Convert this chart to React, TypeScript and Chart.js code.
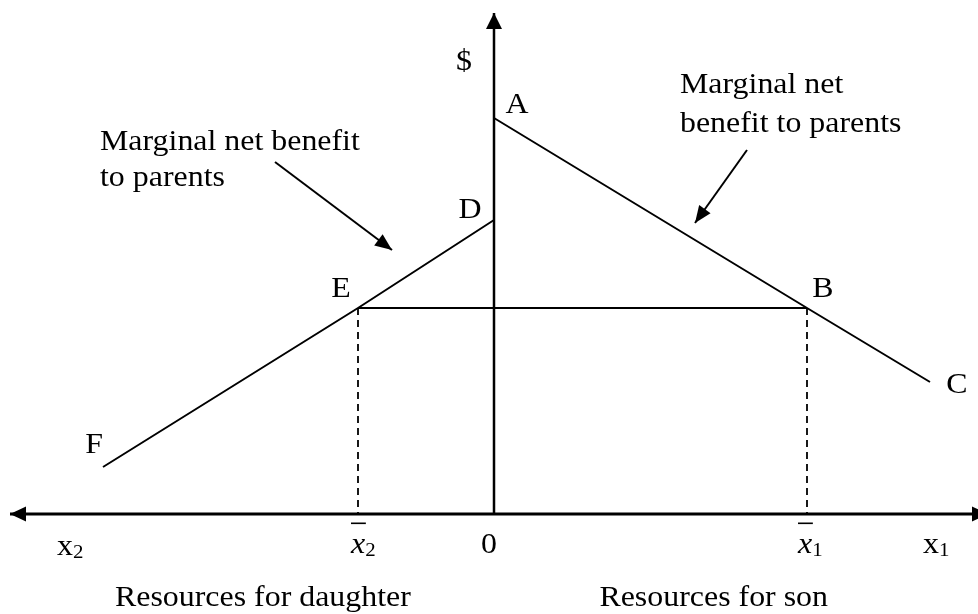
import React, { useEffect, useRef } from "react";
import { Chart, registerables } from "chart.js";
Chart.register(...registerables);

// Geometry (origin at the axes' crossing; 1 unit = 10 px)
const xAxisLine = [{ x: -48.4, y: 0 }, { x: 49.4, y: 0 }];
const yAxisLine = [{ x: 0, y: 0 }, { x: 0, y: 50.1 }];
const sonCurve = [{ x: 0, y: 39.6 }, { x: 31.3, y: 20.6 }, { x: 43.6, y: 13.2 }]; // A, B, C
const daughterCurve = [{ x: 0, y: 29.4 }, { x: -13.6, y: 20.6 }, { x: -39.1, y: 4.7 }]; // D, E, F
const equalLine = [{ x: -13.6, y: 20.6 }, { x: 31.3, y: 20.6 }]; // E to B
const dropE = [{ x: -13.6, y: 20.6 }, { x: -13.6, y: 0 }];
const dropB = [{ x: 31.3, y: 20.6 }, { x: 31.3, y: 0 }];
const leftPointer = [{ x: -21.9, y: 35.2 }, { x: -10.2, y: 26.4 }];
const rightPointer = [{ x: 25.3, y: 36.4 }, { x: 20.1, y: 29.1 }];

const pointLabels = ["A", "B", "C", "D", "E", "F", "$"];
const pointLabelAt = [
  { x: 2.3, y: 40.1 }, { x: 32.9, y: 21.7 }, { x: 46.3, y: 12.1 },
  { x: -2.4, y: 29.6 }, { x: -15.3, y: 21.7 }, { x: -40.0, y: 6.1 }, { x: -3.0, y: 44.4 },
];

const leftNote = ["Marginal net benefit", "to parents"];
const rightNote = ["Marginal net", "benefit to parents"];
const axisTitles = ["Resources for daughter", "Resources for son"];

type Part = { t: string; italic?: boolean; sub?: boolean };
const tickLabels: { parts: Part[]; bar?: boolean; x: number; y: number; align: "left" | "center" }[] = [
  { parts: [{ t: "x" }, { t: "2", sub: true }], x: -43.7, y: -4.1, align: "left" },
  { parts: [{ t: "x", italic: true }, { t: "2", sub: true }], bar: true, x: -14.3, y: -3.9, align: "left" },
  { parts: [{ t: "0" }], x: -0.5, y: -3.9, align: "center" },
  { parts: [{ t: "x", italic: true }, { t: "1", sub: true }], bar: true, x: 30.4, y: -3.9, align: "left" },
  { parts: [{ t: "x" }, { t: "1", sub: true }], x: 42.9, y: -3.9, align: "left" },
];

const FONT_FAMILY = "'Liberation Serif', 'Times New Roman', serif";
const FS = 29;
const STRETCH = 1.1;

function drawParts(ctx: CanvasRenderingContext2D, parts: Part[], px: number, py: number, align: string, bar = false) {
  ctx.save();
  ctx.translate(px, py);
  ctx.scale(STRETCH, 1);
  const fontFor = (p: Part) =>
    `${p.italic ? "italic " : ""}${p.sub ? Math.round(FS * 0.66) : FS}px ${FONT_FAMILY}`;
  let w = 0;
  for (const p of parts) {
    ctx.font = fontFor(p);
    w += ctx.measureText(p.t).width;
  }
  let cx = align === "center" ? -w / 2 : align === "right" ? -w : 0;
  const start = cx;
  ctx.fillStyle = "#000";
  ctx.textBaseline = "alphabetic";
  ctx.textAlign = "left";
  for (const p of parts) {
    ctx.font = fontFor(p);
    ctx.fillText(p.t, cx, p.sub ? 3 : 0);
    cx += ctx.measureText(p.t).width;
  }
  if (bar) {
    ctx.fillRect(start, -30.5, 13.5, 1.6);
  }
  ctx.restore();
}

function arrowHead(ctx: CanvasRenderingContext2D, from: { x: number; y: number }, to: { x: number; y: number }, len: number, half: number) {
  const ang = Math.atan2(to.y - from.y, to.x - from.x);
  ctx.save();
  ctx.translate(to.x, to.y);
  ctx.rotate(ang);
  ctx.beginPath();
  ctx.moveTo(0, 0);
  ctx.lineTo(-len, -half);
  ctx.lineTo(-len, half);
  ctx.closePath();
  ctx.fillStyle = "#000";
  ctx.fill();
  ctx.restore();
}

const decorPlugin = {
  id: "decor",
  afterDatasetsDraw(chart: any) {
    const ctx: CanvasRenderingContext2D = chart.ctx;
    const xs = chart.scales.x;
    const ys = chart.scales.y;
    const P = (p: { x: number; y: number }) => ({ x: xs.getPixelForValue(p.x), y: ys.getPixelForValue(p.y) });

    chart.data.datasets.forEach((ds: any) => {
      const d = ds.data;
      if (!ds.arrow) return;
      const size = ds.arrow.size;
      if (ds.arrow.end) arrowHead(ctx, P(d[d.length - 2]), P(d[d.length - 1]), size[0], size[1]);
      if (ds.arrow.start) arrowHead(ctx, P(d[1]), P(d[0]), size[0], size[1]);
    });

    pointLabels.forEach((t, i) => {
      const p = P(pointLabelAt[i]);
      drawParts(ctx, [{ t }], p.x, p.y, "center");
    });

    leftNote.forEach((t, i) => {
      const p = P({ x: -39.4, y: 36.4 - i * 3.6 });
      drawParts(ctx, [{ t }], p.x, p.y, "left");
    });
    rightNote.forEach((t, i) => {
      const p = P({ x: 18.6, y: 42.1 - i * 3.9 });
      drawParts(ctx, [{ t }], p.x, p.y, "left");
    });

    const t1 = P({ x: -37.9, y: -9.2 });
    drawParts(ctx, [{ t: axisTitles[0] }], t1.x, t1.y, "left");
    const t2 = P({ x: 33.4, y: -9.2 });
    drawParts(ctx, [{ t: axisTitles[1] }], t2.x, t2.y, "right");

    tickLabels.forEach((l) => {
      const p = P({ x: l.x, y: l.y });
      drawParts(ctx, l.parts, p.x, p.y, l.align, l.bar);
    });
  },
};

const line = (data: any[], width: number, extra: any = {}) => ({
  data,
  showLine: true,
  borderColor: "#000",
  backgroundColor: "#000",
  borderWidth: width,
  pointRadius: 0,
  tension: 0,
  fill: false,
  ...extra,
});

export default function App() {
  const ref = useRef<HTMLCanvasElement>(null);
  useEffect(() => {
    document.body.style.margin = "0";
    const chart = new Chart(ref.current!, {
      type: "scatter",
      data: {
        datasets: [
          line(xAxisLine, 3, { arrow: { start: true, end: true, size: [16, 7.5] } }),
          line(yAxisLine, 2.5, { arrow: { end: true, size: [16, 8] } }),
          line(sonCurve, 2),
          line(daughterCurve, 2),
          line(equalLine, 2),
          line(dropE, 1.8, { borderDash: [7, 5] }),
          line(dropB, 1.8, { borderDash: [7, 5] }),
          line(leftPointer, 2, { arrow: { end: true, size: [17, 7] } }),
          line(rightPointer, 2, { arrow: { end: true, size: [17, 7] } }),
        ] as any,
      },
      options: {
        animation: false,
        responsive: false,
        events: [],
        layout: { padding: 0 },
        plugins: { legend: { display: false }, tooltip: { enabled: false } },
        scales: {
          x: { type: "linear", min: -49.4, max: 48.4, display: false },
          y: { type: "linear", min: -10, max: 51.4, display: false },
        },
      },
      plugins: [decorPlugin],
    });
    return () => chart.destroy();
  }, []);
  return (
    <div style={{ position: "fixed", left: 0, top: 0, width: 978, height: 614, background: "#fff" }}>
      <canvas ref={ref} width={978} height={614} />
    </div>
  );
}
